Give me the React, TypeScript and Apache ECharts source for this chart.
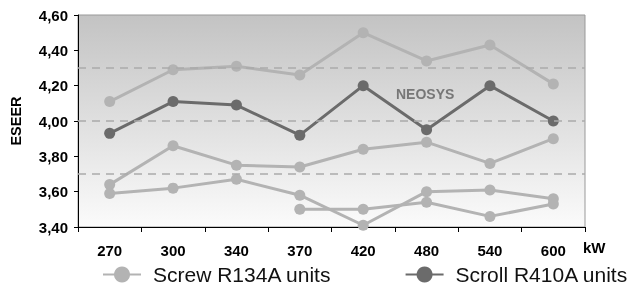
import React, { useEffect, useRef } from "react";
import * as echarts from "echarts";

const categories = ["270", "300", "340", "370", "420", "480", "540", "600"];
const screwTop = [4.11, 4.29, 4.31, 4.26, 4.5, 4.34, 4.43, 4.21];
const scroll = [3.93, 4.11, 4.09, 3.92, 4.2, 3.95, 4.2, 4.0];
const screwMid = [3.64, 3.86, 3.75, 3.74, 3.84, 3.88, 3.76, 3.9];
const screwLow = [3.59, 3.62, 3.67, 3.58, 3.41, 3.6, 3.61, 3.56];
const screwLowest = [null, null, null, 3.5, 3.5, 3.54, 3.46, 3.53];
const refLines = [4.3, 4.0, 3.7];
const screwName = "Screw R134A units";
const scrollName = "Scroll R410A units";

const FONT = "'Liberation Sans', Arial, sans-serif";
const LIGHT = "#b3b3b3";
const DARK = "#6b6b6b";

export default function App() {
  const ref = useRef<HTMLDivElement>(null);
  useEffect(() => {
    if (!ref.current) return;
    const chart = echarts.init(ref.current, null, { renderer: "svg" });
    const lineSeries = (name: string, data: (number | null)[], color: string, extra: any = {}) => ({
      type: "line",
      name,
      data,
      symbol: "circle",
      symbolSize: 11,
      connectNulls: false,
      itemStyle: { color },
      lineStyle: { color, width: 3 },
      ...extra,
    });
    chart.setOption({
      animation: false,
      textStyle: { fontFamily: FONT },
      grid: {
        left: 72,
        top: 15,
        right: 48,
        bottom: 64,
        show: true,
        borderColor: "#999",
        borderWidth: 1,
        backgroundColor: new echarts.graphic.LinearGradient(0, 0, 0, 1, [
          { offset: 0, color: "#c3c3c3" },
          { offset: 1, color: "#fbfbfb" },
        ]),
      },
      legend: {
        left: 102,
        top: 264,
        width: 531,
        padding: 0,
        orient: "horizontal",
        itemWidth: 38,
        itemHeight: 20,
        itemGap: 73,
        data: [screwName, scrollName],
        textStyle: { fontSize: 21, color: "#111", fontFamily: FONT, padding: [0, 0, 0, 7] },
      },
      xAxis: {
        type: "category",
        data: categories,
        boundaryGap: true,
        name: "kW",
        nameLocation: "end",
        nameGap: -2,
        nameTextStyle: {
          fontSize: 15,
          fontWeight: "bold",
          color: "#000",
          align: "left",
          verticalAlign: "top",
          padding: [13, 0, 0, 0],
        },
        axisLine: { lineStyle: { color: "#000", width: 1 } },
        axisTick: { show: true, length: 5, lineStyle: { color: "#000" } },
        axisLabel: { fontSize: 15, fontWeight: "bold", color: "#000", margin: 16 },
        splitLine: { show: false },
      },
      yAxis: {
        type: "value",
        min: 3.4,
        max: 4.6,
        interval: 0.2,
        name: "ESEER",
        nameLocation: "middle",
        nameRotate: 90,
        nameGap: 55,
        nameTextStyle: { fontSize: 14.5, fontWeight: "bold", color: "#000" },
        axisLine: { show: true, lineStyle: { color: "#000", width: 1 } },
        axisTick: { show: true, length: 4, lineStyle: { color: "#000" } },
        axisLabel: {
          fontSize: 15,
          fontWeight: "bold",
          color: "#000",
          margin: 10,
          formatter: (v: number) => v.toFixed(2).replace(".", ","),
        },
        splitLine: { show: false },
      },
      graphic: [
        {
          type: "text",
          left: 396,
          top: 87,
          style: { text: "NEOSYS", fontSize: 14, fontWeight: "bold", fill: "#777", fontFamily: FONT },
        },
      ],
      series: [
        lineSeries(screwName, screwTop, LIGHT, {
          markLine: {
            silent: true,
            symbol: ["none", "none"],
            label: { show: false },
            lineStyle: { color: "#aaa", width: 1.5, type: [8, 6] },
            data: refLines.map((v) => ({ yAxis: v })),
          },
        }),
        lineSeries(screwName, screwMid, LIGHT),
        lineSeries(screwName, screwLow, LIGHT),
        lineSeries(screwName, screwLowest, LIGHT),
        lineSeries(scrollName, scroll, DARK),
      ],
    });
    return () => chart.dispose();
  }, []);
  return <div ref={ref} style={{ position: "fixed", left: 0, top: 0, width: 633, height: 291 }} />;
}
